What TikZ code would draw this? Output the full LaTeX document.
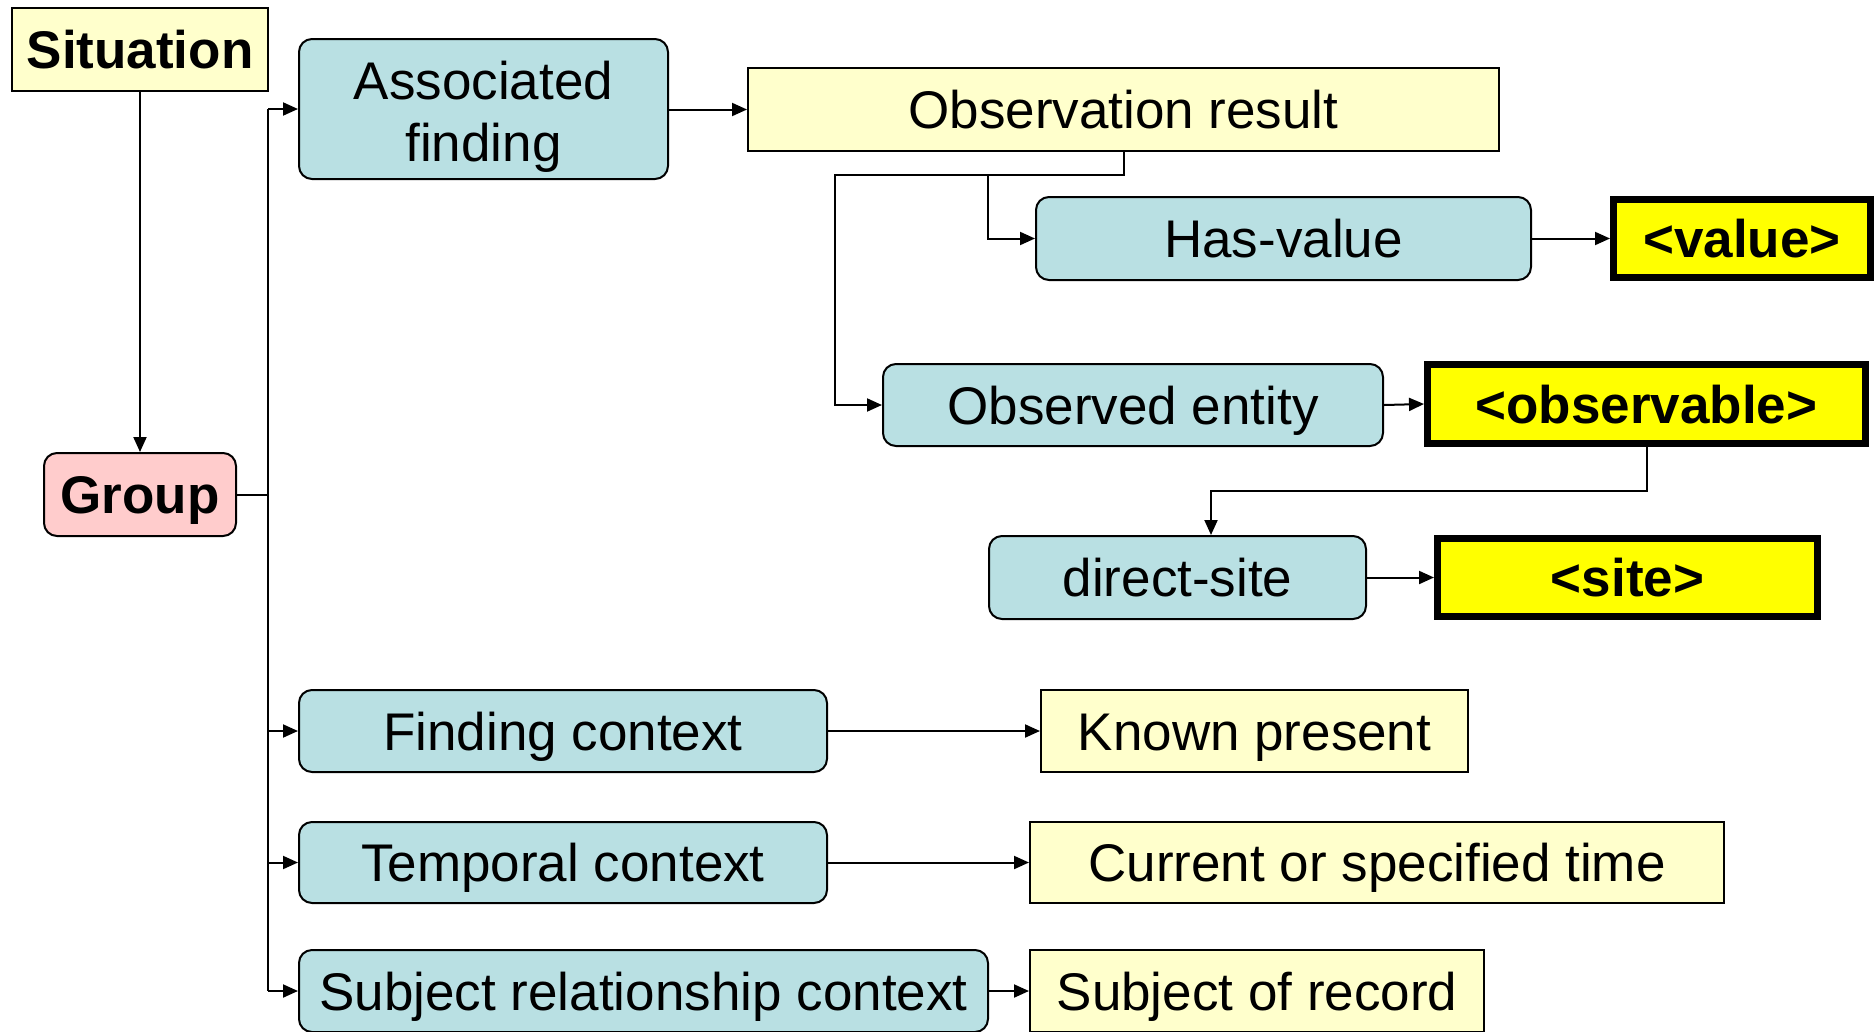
\documentclass[tikz,border=0pt]{standalone}
\usepackage{fontspec}
\setmainfont{Liberation Sans}
\usetikzlibrary{arrows.meta,calc}
\definecolor{teal}{HTML}{B9E0E3}
\definecolor{paleyel}{HTML}{FFFFCC}
\definecolor{pinkc}{HTML}{FFCCCC}
\definecolor{bright}{HTML}{FFFF00}
\tikzset{
  base0/.style={draw=black, line width=2pt, inner sep=0pt, anchor=center,
    font=\fontsize{53}{62}\selectfont, align=center},
  base/.style={base0, text height=38pt, text depth=0pt},
  rbox/.style={base, fill=teal, rounded corners=13pt},
  rboxml/.style={base0, fill=teal, rounded corners=13pt},
  ybox/.style={base, fill=paleyel},
  gbox/.style={base, fill=pinkc, rounded corners=13pt, font=\fontsize{53}{62}\selectfont\bfseries},
  sbox/.style={base, fill=paleyel, font=\fontsize{53}{62}\selectfont\bfseries},
  tbox/.style={base, fill=bright, line width=7pt, font=\fontsize{53}{62}\selectfont\bfseries},
  arr/.style={draw=black, line width=2pt, -{Triangle[length=15pt,width=13pt]}},
  ln/.style={draw=black, line width=2pt},
}
\begin{document}
\begin{tikzpicture}[x=1pt,y=-1pt]
\useasboundingbox (0,0) rectangle (1876,1031);
\node[sbox, minimum width=256pt, minimum height=83pt] (sit) at (140,49.5) {Situation};
\node[rboxml, minimum width=369pt, minimum height=140pt] (assoc) at (483.5,109) {\rule{0pt}{54pt}Associated\\finding};
\node[ybox, minimum width=751pt, minimum height=83pt] (obs) at (1123.5,109.5) {Observation result};
\node[rbox, minimum width=495pt, minimum height=83pt] (hasv) at (1283.5,238.5) {Has-value};
\node[tbox, minimum width=257pt, minimum height=78pt] (val) at (1742,238.5) {<value>};
\node[rbox, minimum width=500pt, minimum height=82pt] (oent) at (1133,405) {Observed entity};
\node[tbox, minimum width=438pt, minimum height=79pt] (obsv) at (1646.5,404) {<observable>};
\node[rbox, minimum width=377pt, minimum height=83pt] (dsite) at (1177.5,577.5) {direct-site};
\node[tbox, minimum width=380pt, minimum height=78pt] (site) at (1627.5,577.5) {<site>};
\node[gbox, minimum width=192pt, minimum height=83pt] (group) at (140,494.5) {Group};
\node[rbox, minimum width=528pt, minimum height=82pt] (fctx) at (563,731) {Finding context};
\node[ybox, minimum width=427pt, minimum height=82pt] (kp) at (1254.5,731) {Known present};
\node[rbox, minimum width=528pt, minimum height=81pt] (tctx) at (563,862.5) {Temporal context};
\node[ybox, minimum width=694pt, minimum height=81pt] (cur) at (1377,862.5) {Current or specified time};
\node[rbox, minimum width=689pt, minimum height=82pt] (subj) at (643.5,991) {Subject relationship context};
\node[ybox, minimum width=454pt, minimum height=82pt] (sor) at (1257,991) {Subject of record};

\coordinate (tr) at (268,0);
\coordinate (jL) at (835,175);
\coordinate (jH) at (988,175);
\coordinate (k) at (1211,491);

\draw[arr] (sit.south) -- (group.north);
\draw[ln] (group.east) -- (tr |- group.east);
\draw[ln] (tr |- assoc.west) -- (tr |- subj.west);
\draw[arr] (tr |- assoc.west) -- (assoc.west);
\draw[arr] (tr |- fctx.west) -- (fctx.west);
\draw[arr] (tr |- tctx.west) -- (tctx.west);
\draw[arr] (tr |- subj.west) -- (subj.west);
\draw[arr] (assoc.east |- obs.west) -- (obs.west);
\draw[arr] (obs.south) |- (jL) |- (oent.west);
\draw[arr] (jH) |- (hasv.west);
\draw[arr] (hasv.east) -- (val.west);
\draw[arr] (oent.east) -- (obsv.west);
\draw[arr] (obsv.south) |- (k) -- (k |- dsite.north);
\draw[arr] (dsite.east) -- (site.west);
\draw[arr] (fctx.east) -- (kp.west);
\draw[arr] (tctx.east) -- (cur.west);
\draw[arr] (subj.east) -- (sor.west);
\end{tikzpicture}
\end{document}
